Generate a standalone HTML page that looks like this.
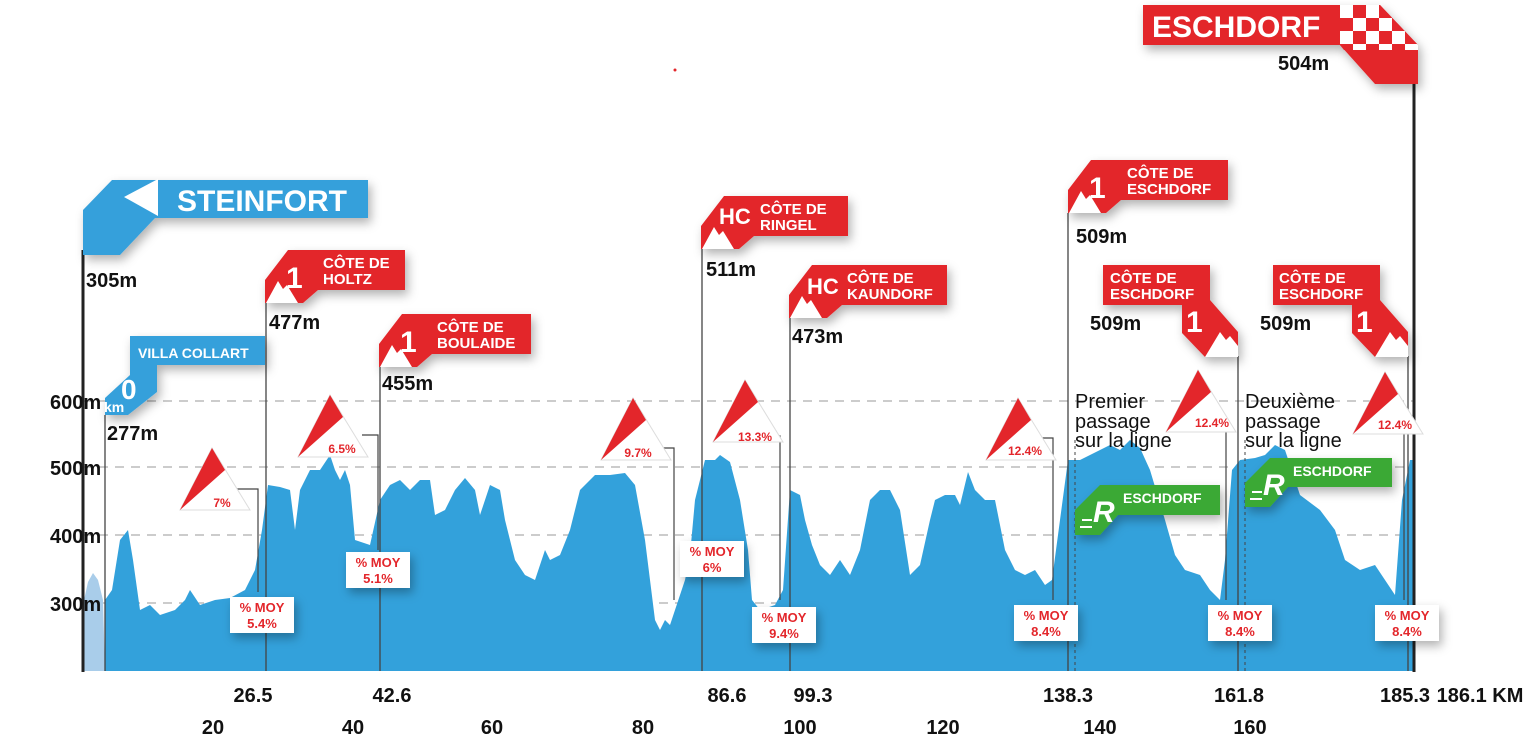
<!DOCTYPE html>
<html><head><meta charset="utf-8"><style>
html,body{margin:0;padding:0;background:#fff;}
svg{display:block;}
text{font-family:"Liberation Sans",sans-serif;}
</style></head><body>
<svg width="1536" height="737" viewBox="0 0 1536 737" xmlns="http://www.w3.org/2000/svg">
<defs>
<filter id="sh" x="-30%" y="-30%" width="160%" height="180%"><feDropShadow dx="3" dy="5" stdDeviation="5" flood-color="#000" flood-opacity="0.3"/></filter>
<pattern id="chk" x="1340" y="5" width="26" height="26" patternUnits="userSpaceOnUse">
<rect width="26" height="26" fill="#e3262b"/><rect width="13" height="13" fill="#fff"/><rect x="13" y="13" width="13" height="13" fill="#fff"/></pattern>
<g id="grad"><polygon points="0,0 -32,62 38,62" fill="#fff" stroke="#ddd" stroke-width="1"/><polygon points="0,0 -32,62 13,22" fill="#e3262b"/></g>
<g id="mtn"><polygon points="0,0 12,-22 17,-14 21,-18 32,0" fill="#fff"/></g>
</defs>

<!-- grid -->
<g stroke="#999" stroke-width="1" stroke-dasharray="9,7">
<line x1="83" y1="401" x2="1413" y2="401"/><line x1="83" y1="467" x2="1413" y2="467"/>
<line x1="83" y1="535" x2="1413" y2="535"/><line x1="83" y1="603" x2="1413" y2="603"/>
</g>

<!-- profile -->
<polygon fill="#a9cdea" points="84,671 84,600 88,582 93,573 98,580 103,600 105,671"/>
<polygon fill="#33a1db" points="105,600 112,590 120,540 128,530 133,560 140,610 150,605 160,615 175,610 185,600 190,590 200,605 215,600 230,598 245,590 255,570 262,530 268,485 280,487 290,490 295,530 300,490 310,470 320,470 330,455 335,470 340,480 345,470 350,485 355,540 370,545 380,500 390,485 400,480 410,490 420,480 430,480 435,515 445,510 455,490 465,478 475,490 480,515 490,485 500,490 505,520 515,560 525,575 535,580 540,565 545,550 550,560 560,555 570,530 580,490 595,475 610,475 625,473 635,485 645,540 655,620 660,630 665,620 670,625 675,610 685,580 690,555 695,500 705,460 715,460 720,455 730,462 740,500 748,550 752,600 760,610 775,605 783,590 790,490 800,495 805,520 812,545 820,565 830,575 840,560 850,575 860,550 870,500 880,490 890,490 900,510 910,575 920,565 930,520 935,500 945,495 955,495 960,505 968,472 975,490 985,500 995,500 1005,550 1015,570 1025,575 1035,570 1045,585 1052,580 1060,520 1068,460 1080,460 1090,455 1100,450 1110,445 1120,450 1130,440 1140,448 1150,470 1165,520 1175,555 1185,570 1200,575 1210,590 1220,600 1225,560 1232,470 1240,460 1255,458 1265,455 1275,445 1285,450 1300,495 1320,510 1335,530 1345,560 1360,570 1375,565 1385,580 1395,595 1402,500 1410,460 1413,460 1413,671 105,671"/>

<!-- vertical lines -->
<g stroke="#444" stroke-width="1.3">
<line x1="105" y1="415" x2="105" y2="671"/><line x1="266" y1="303" x2="266" y2="671"/>
<line x1="380" y1="365" x2="380" y2="671"/><line x1="702" y1="248" x2="702" y2="671"/>
<line x1="790" y1="318" x2="790" y2="671"/><line x1="1068" y1="213" x2="1068" y2="671"/>
<line x1="1238" y1="356" x2="1238" y2="671"/><line x1="1408" y1="356" x2="1408" y2="671"/>
</g>
<g stroke="#444" stroke-width="1" stroke-dasharray="3,3">
<line x1="1075" y1="440" x2="1075" y2="671"/><line x1="1245" y1="440" x2="1245" y2="671"/>
</g>
<line x1="83" y1="250" x2="83" y2="672" stroke="#222" stroke-width="3"/>
<line x1="1414" y1="80" x2="1414" y2="672" stroke="#222" stroke-width="3"/>

<!-- connectors -->
<g stroke="#444" stroke-width="1.2" fill="none">
<polyline points="232,489 258,489 258,592"/><polyline points="362,435 378,435 378,550"/>
<polyline points="660,448 674,448 674,600"/><polyline points="775,436 780,436 780,600"/>
<polyline points="1040,438 1053,438 1053,600"/><polyline points="1222,430 1226,430 1226,600"/>
<polyline points="1400,432 1404,432 1404,600"/>
</g>

<!-- gradient icons -->
<g font-weight="bold" font-size="12" fill="#e3262b" text-anchor="middle">
<use href="#grad" x="212" y="448"/><text x="222" y="507">7%</text>
<use href="#grad" x="330" y="395"/><text x="342" y="453">6.5%</text>
<use href="#grad" x="633" y="398"/><text x="638" y="457">9.7%</text>
<use href="#grad" x="745" y="380"/><text x="755" y="441">13.3%</text>
<use href="#grad" x="1018" y="398"/><text x="1025" y="455">12.4%</text>
<use href="#grad" x="1198" y="370"/><text x="1212" y="427">12.4%</text>
<use href="#grad" x="1385" y="372"/><text x="1395" y="429">12.4%</text>
</g>

<!-- MOY boxes -->
<g font-weight="bold" font-size="13" fill="#e3262b" text-anchor="middle">
<g filter="url(#sh)" fill="#fff">
<rect x="230" y="597" width="64" height="36"/><rect x="346" y="552" width="64" height="36"/>
<rect x="680" y="541" width="64" height="36"/><rect x="752" y="607" width="64" height="36"/>
<rect x="1014" y="605" width="64" height="36"/><rect x="1208" y="605" width="64" height="36"/>
<rect x="1375" y="605" width="64" height="36"/></g>
<text x="262" y="612">% MOY</text><text x="262" y="628">5.4%</text>
<text x="378" y="567">% MOY</text><text x="378" y="583">5.1%</text>
<text x="712" y="556">% MOY</text><text x="712" y="572">6%</text>
<text x="784" y="622">% MOY</text><text x="784" y="638">9.4%</text>
<text x="1046" y="620">% MOY</text><text x="1046" y="636">8.4%</text>
<text x="1240" y="620">% MOY</text><text x="1240" y="636">8.4%</text>
<text x="1407" y="620">% MOY</text><text x="1407" y="636">8.4%</text>
</g>

<!-- Steinfort -->
<g filter="url(#sh)"><polygon fill="#35a0db" points="83,210 112,180 368,180 368,218 155,218 120,255 83,255"/></g>
<polygon fill="#fff" points="124,197 158,179 158,216"/>
<text x="177" y="211" font-size="30" font-weight="bold" fill="#fff">STEINFORT</text>

<!-- Villa Collart -->
<g filter="url(#sh)"><polygon fill="#35a0db" points="130,336 265,336 265,365 157,365 157,392 128,415 105,415 105,398 130,375"/></g>
<text x="138" y="358" font-size="14" font-weight="bold" fill="#fff">VILLA COLLART</text>
<text x="121" y="399" font-size="28" font-weight="bold" fill="#fff">0</text>
<text x="104" y="412" font-size="14" font-weight="bold" fill="#fff">km</text>

<!-- red flags (left oriented) -->
<g font-weight="bold" fill="#fff">
<g filter="url(#sh)"><polygon fill="#e3262b" points="265,280 288,250 405,250 405,290 318,290 303,303 265,303"/></g>
<use href="#mtn" x="266" y="303"/><text x="286" y="288" font-size="30">1</text>
<text x="323" y="268" font-size="15">CÔTE DE</text><text x="323" y="284" font-size="15">HOLTZ</text>

<g filter="url(#sh)"><polygon fill="#e3262b" points="379,344 402,314 531,314 531,354 432,354 417,367 379,367"/></g>
<use href="#mtn" x="380" y="367"/><text x="400" y="352" font-size="30">1</text>
<text x="437" y="332" font-size="15">CÔTE DE</text><text x="437" y="348" font-size="15">BOULAIDE</text>

<g filter="url(#sh)"><polygon fill="#e3262b" points="701,226 724,196 848,196 848,236 754,236 739,249 701,249"/></g>
<use href="#mtn" x="702" y="249"/><text x="719" y="224" font-size="22">HC</text>
<text x="760" y="214" font-size="15">CÔTE DE</text><text x="760" y="230" font-size="15">RINGEL</text>

<g filter="url(#sh)"><polygon fill="#e3262b" points="789,295 812,265 947,265 947,305 842,305 827,318 789,318"/></g>
<use href="#mtn" x="790" y="318"/><text x="807" y="294" font-size="22">HC</text>
<text x="847" y="283" font-size="15">CÔTE DE</text><text x="847" y="299" font-size="15">KAUNDORF</text>

<g filter="url(#sh)"><polygon fill="#e3262b" points="1068,190 1091,160 1228,160 1228,200 1121,200 1106,213 1068,213"/></g>
<use href="#mtn" x="1069" y="213"/><text x="1089" y="198" font-size="30">1</text>
<text x="1127" y="178" font-size="15">CÔTE DE</text><text x="1127" y="194" font-size="15">ESCHDORF</text>

<!-- right oriented -->
<g filter="url(#sh)"><polygon fill="#e3262b" points="1103,265 1210,265 1210,300 1238,332 1238,357 1205,357 1182,333 1182,305 1103,305"/></g>
<polygon fill="#fff" points="1205,357 1220,332 1226,340 1230,336 1238,346 1238,357"/>
<text x="1186" y="332" font-size="30">1</text>
<text x="1110" y="283" font-size="15">CÔTE DE</text><text x="1110" y="299" font-size="15">ESCHDORF</text>

<g filter="url(#sh)"><polygon fill="#e3262b" points="1273,265 1380,265 1380,300 1408,332 1408,357 1375,357 1352,333 1352,305 1273,305"/></g>
<polygon fill="#fff" points="1375,357 1390,332 1396,340 1400,336 1408,346 1408,357"/>
<text x="1356" y="332" font-size="30">1</text>
<text x="1279" y="283" font-size="15">CÔTE DE</text><text x="1279" y="299" font-size="15">ESCHDORF</text>
</g>

<!-- finish -->
<g filter="url(#sh)">
<polygon fill="#e3262b" points="1143,5 1380,5 1418,45 1418,84 1375,84 1340,45 1143,45"/>
</g>
<polygon fill="url(#chk)" points="1340,5 1380,5 1418,45 1418,50 1344,50 1340,45"/>
<text x="1152" y="37" font-size="30" font-weight="bold" fill="#fff">ESCHDORF</text>
<circle cx="675" cy="70" r="1.5" fill="#e3262b"/>

<!-- green sprints -->
<g filter="url(#sh)">
<polygon fill="#3aa935" points="1100,485 1220,485 1220,515 1118,515 1100,535 1075,535 1075,510"/>
<polygon fill="#3aa935" points="1270,458 1392,458 1392,487 1288,487 1270,507 1245,507 1245,483"/>
</g>
<g fill="#fff" font-weight="bold">
<text x="1123" y="503" font-size="14">ESCHDORF</text><text x="1093" y="522" font-size="30" font-style="italic">R</text>
<text x="1293" y="476" font-size="14">ESCHDORF</text><text x="1263" y="495" font-size="30" font-style="italic">R</text>
</g>
<g stroke="#fff" stroke-width="2"><line x1="1080" y1="527" x2="1092" y2="527"/><line x1="1082" y1="520" x2="1092" y2="520"/><line x1="1250" y1="499" x2="1262" y2="499"/><line x1="1252" y1="492" x2="1262" y2="492"/></g>

<!-- passage text -->
<g font-size="20" fill="#111">
<text x="1075" y="408">Premier</text><text x="1075" y="428">passage</text><text x="1075" y="447">sur la ligne</text>
<text x="1245" y="408">Deuxième</text><text x="1245" y="428">passage</text><text x="1245" y="447">sur la ligne</text>
</g>

<!-- elevation labels -->
<g font-size="20" font-weight="bold" fill="#111">
<text x="86" y="287">305m</text><text x="269" y="329">477m</text><text x="382" y="390">455m</text>
<text x="107" y="440">277m</text><text x="706" y="276">511m</text><text x="792" y="343">473m</text>
<text x="1076" y="243">509m</text><text x="1090" y="330">509m</text><text x="1260" y="330">509m</text>
<text x="1278" y="70">504m</text>
<text x="50" y="409">600m</text><text x="50" y="475">500m</text><text x="50" y="543">400m</text><text x="50" y="611">300m</text>
</g>

<!-- km labels -->
<g font-size="20" font-weight="bold" fill="#111" text-anchor="middle">
<text x="253" y="702">26.5</text><text x="392" y="702">42.6</text><text x="727" y="702">86.6</text>
<text x="813" y="702">99.3</text><text x="1068" y="702">138.3</text><text x="1239" y="702">161.8</text>
<text x="1405" y="702">185.3</text><text x="1480" y="702">186.1 KM</text>
<text x="213" y="734">20</text><text x="353" y="734">40</text><text x="492" y="734">60</text>
<text x="643" y="734">80</text><text x="800" y="734">100</text><text x="943" y="734">120</text>
<text x="1100" y="734">140</text><text x="1250" y="734">160</text>
</g>
</svg>
</body></html>
